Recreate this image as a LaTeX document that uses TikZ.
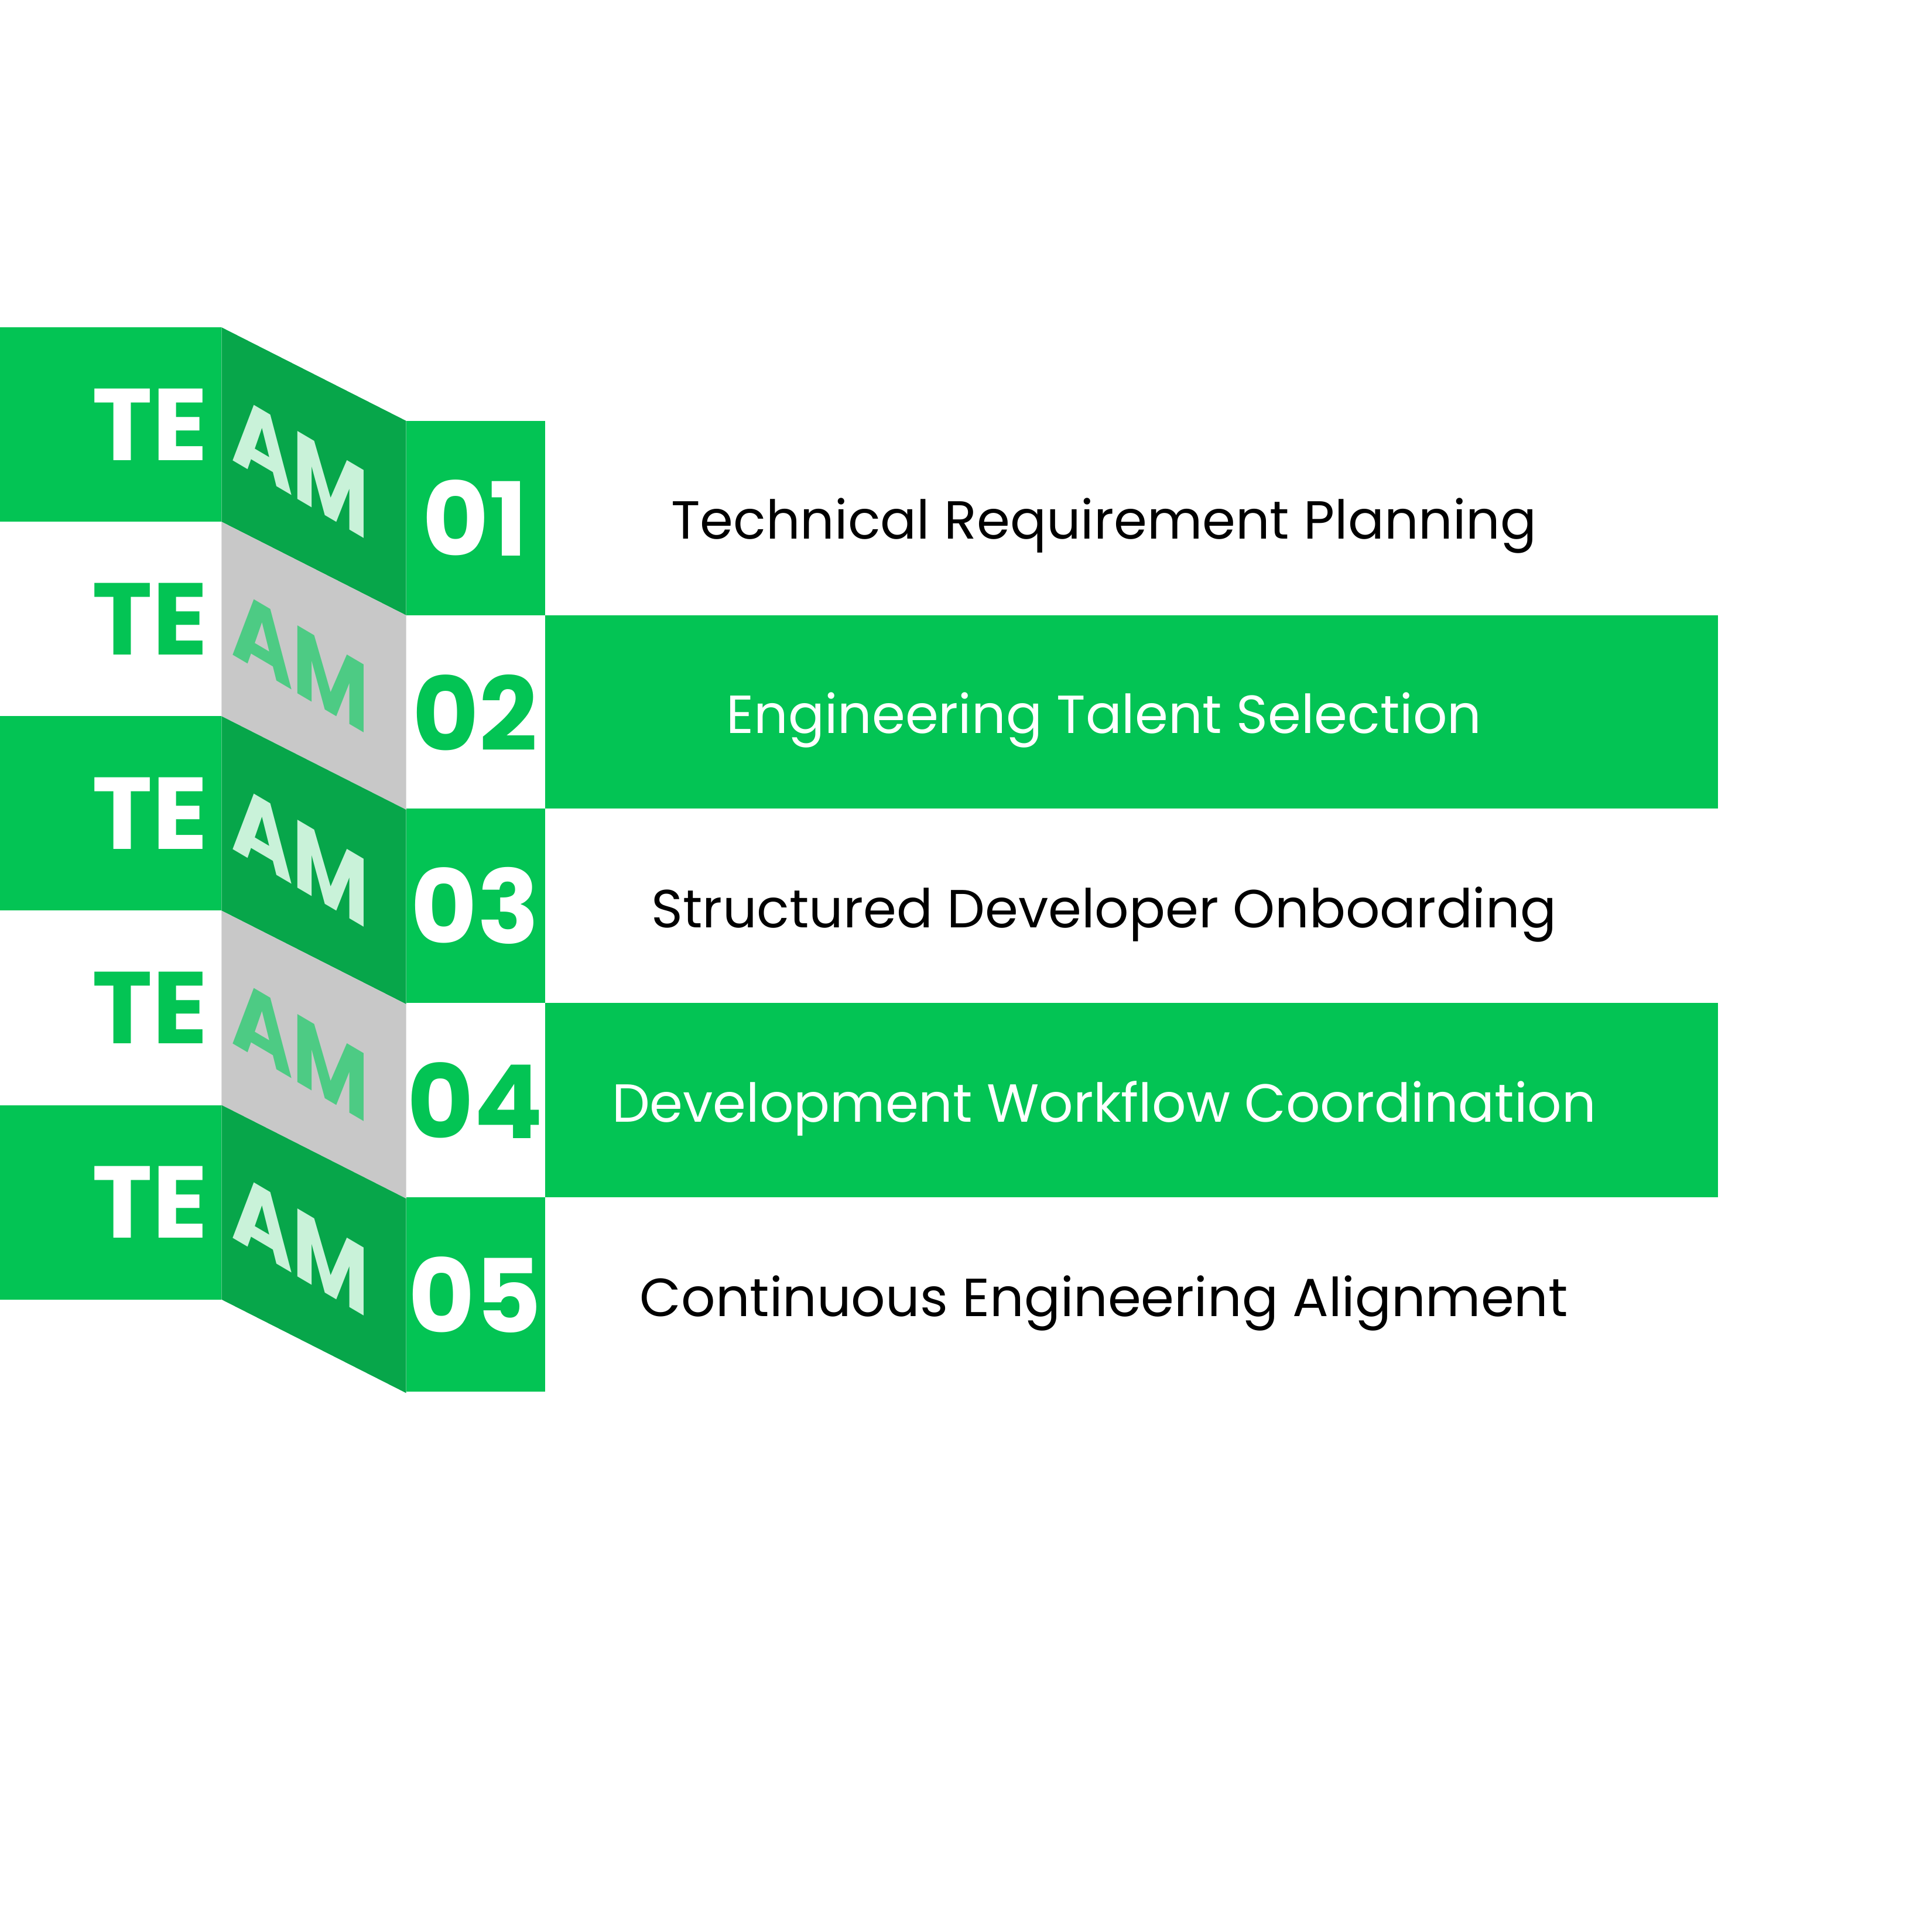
\documentclass[tikz,border=0pt]{standalone}
\usepackage{fontspec}
\setmainfont{Poppins}
\definecolor{gr}{HTML}{03C454}
\definecolor{dk}{HTML}{07A64A}
\definecolor{gy}{HTML}{C8C8C8}
\definecolor{lt}{HTML}{C9F2D9}
\definecolor{mg}{HTML}{4DCB84}
\tikzset{
 te/.style={font=\fontsize{118}{118}\selectfont\bfseries, inner sep=0},
 am/.style={font=\fontsize{112}{112}\selectfont\bfseries, inner sep=0, xscale=0.86, yslant=-0.507},
 num/.style={font=\fontsize{118}{118}\selectfont\bfseries, inner sep=0},
 lab/.style={font=\fontsize{62}{62}\selectfont, inner sep=0}
}
\begin{document}
\begin{tikzpicture}[x=0.05cm,y=-0.05cm]
\useasboundingbox[fill=white] (0,0) rectangle (1560,1570);
\foreach \i/\lc/\pc/\tc/\ac in {0/gr/dk/white/lt,1/white/gy/gr/mg,2/gr/dk/white/lt,3/white/gy/gr/mg,4/gr/dk/white/lt}{
  \pgfmathsetmacro{\t}{266+158*\i}
  \fill[\lc] (0,\t) rectangle (180,\t+158);
  \fill[\pc] (180,\t) -- (330,\t+76) -- (330,\t+234) -- (180,\t+158) -- cycle;
  \node[te,text=\tc] (te\i) at (122,\t+79) {TE};
  \node[am,text=\ac] (am\i) at (244,\t+113) {AM};
}
\fill[gr] (330,342) rectangle (443,500);
\fill[gr] (330,657) rectangle (443,815);
\fill[gr] (330,973) rectangle (443,1131);
\fill[gr] (443,500) rectangle (1396,657);
\fill[gr] (443,815) rectangle (1396,973);
\node[num,text=white] (n1) at (386,421) {01};
\node[num,text=gr] (n2) at (386,579) {02};
\node[num,text=white] (n3) at (386,736) {03};
\node[num,text=gr] (n4) at (386,894) {04};
\node[num,text=white] (n5) at (386,1052) {05};
\node[lab,text=black] (l1) at (897,427) {Technical Requirement Planning};
\node[lab,text=white] (l2) at (897,585) {Engineering Talent Selection};
\node[lab,text=black] (l3) at (897,743) {Structured Developer Onboarding};
\node[lab,text=white] (l4) at (897,901) {Development Workflow Coordination};
\node[lab,text=black] (l5) at (897,1059) {Continuous Engineering Alignment};
\end{tikzpicture}
\end{document}
